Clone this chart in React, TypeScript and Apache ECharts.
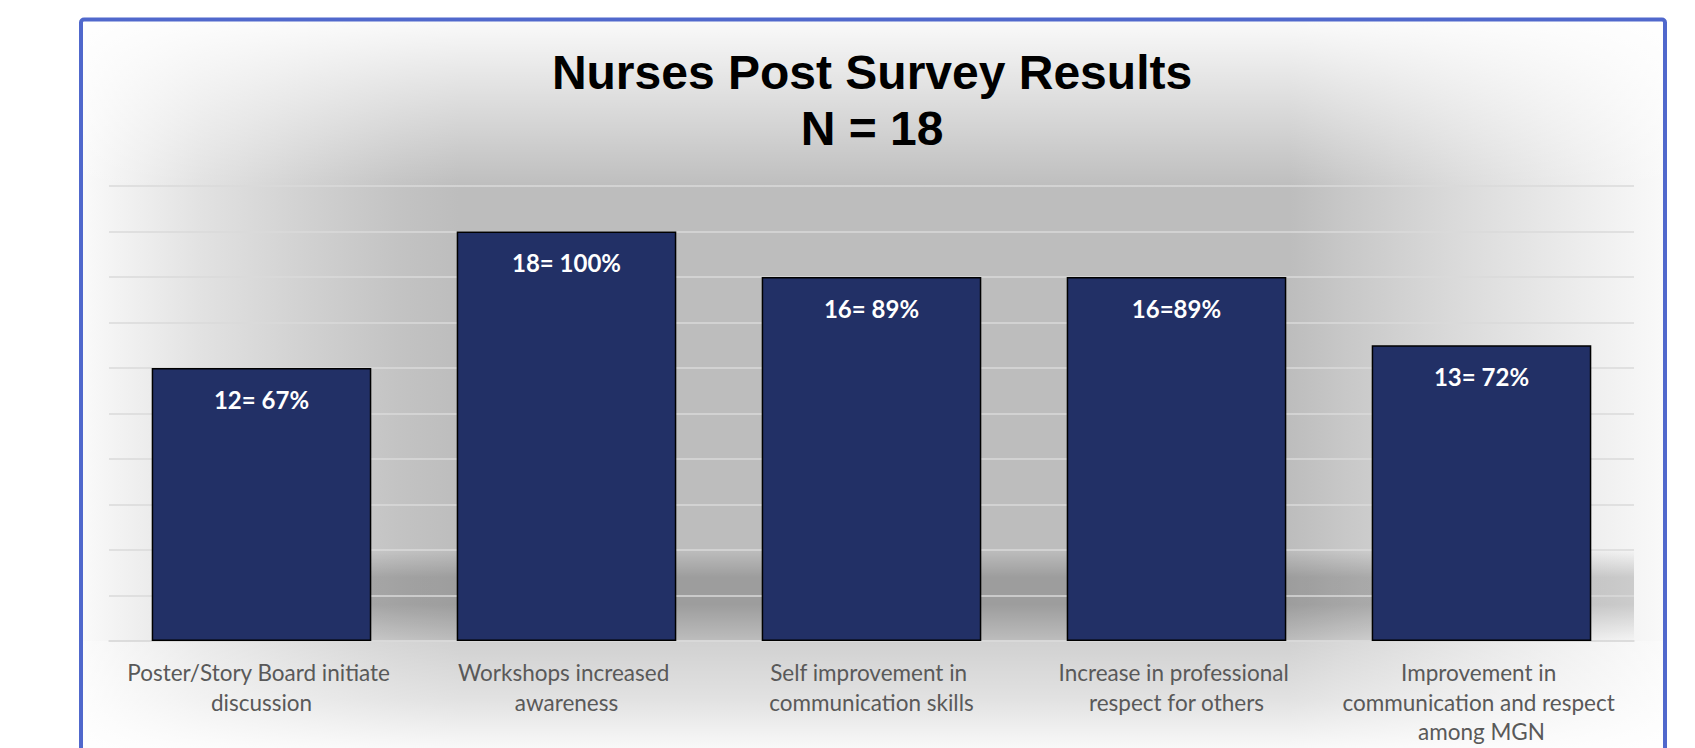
import React, { useEffect, useRef } from "react";
import * as echarts from "echarts";

const titleLines = ["Nurses Post Survey Results", "N = 18"];
const categories = [
  "Poster/Story Board initiate discussion",
  "Workshops increased awareness",
  "Self improvement in communication skills",
  "Increase in professional respect for others",
  "Improvement in communication and respect among MGN",
];
const counts = [12, 18, 16, 16, 13];
const barLabels = ["12= 67%", "18= 100%", "16= 89%", "16=89%", "13= 72%"];

const W = 1695;
const H = 748;

export default function App() {
  const ref = useRef<HTMLDivElement>(null);
  useEffect(() => {
    if (!ref.current) return;
    const chart = echarts.init(ref.current, null, { renderer: "svg" });
    const bx0 = 83, bx1 = 1663, by0 = 21;
    const hGrad = {
      type: "linear", x: 0, y: 0, x2: 1, y2: 0,
      colorStops: [
        { offset: 0, color: "#fafafa" },
        { offset: 0.011, color: "#f6f6f6" },
        { offset: 0.074, color: "#e2e2e2" },
        { offset: 0.137, color: "#d2d2d2" },
        { offset: 0.2, color: "#c3c3c3" },
        { offset: 0.238, color: "#bdbdbd" },
        { offset: 0.764, color: "#bdbdbd" },
        { offset: 0.8, color: "#c8c8c8" },
        { offset: 0.864, color: "#d9d9d9" },
        { offset: 0.928, color: "#e8e8e8" },
        { offset: 1, color: "#f9f9f9" },
      ],
    };
    chart.setOption({
      animation: false,
      backgroundColor: "#ffffff",
      title: {
        text: titleLines.join("\n"),
        left: 872,
        top: 44,
        textAlign: "center",
        padding: 0,
        textStyle: {
          fontFamily: "Liberation Sans, Arial, sans-serif",
          fontWeight: "bold",
          fontSize: 48,
          lineHeight: 56,
          color: "#000000",
        },
      },
      graphic: [
        {
          type: "rect", z: -10, silent: true,
          shape: { x: bx0, y: by0, width: bx1 - bx0, height: H - by0 },
          style: { fill: hGrad },
        },
        {
          type: "rect", z: -9, silent: true,
          shape: { x: bx0, y: by0, width: bx1 - bx0, height: 168 },
          style: {
            fill: {
              type: "linear", x: 0, y: 0, x2: 0, y2: 1,
              colorStops: [
                { offset: 0, color: "rgba(255,255,255,0.92)" },
                { offset: 0.66, color: "rgba(255,255,255,0.32)" },
                { offset: 1, color: "rgba(255,255,255,0)" },
              ],
            },
          },
        },
        {
          type: "rect", z: -9, silent: true,
          shape: { x: 300, y: 550, width: 1334, height: 91 },
          style: {
            fill: {
              type: "linear", x: 0, y: 0, x2: 0, y2: 1,
              colorStops: [
                { offset: 0, color: "rgba(0,0,0,0)" },
                { offset: 0.3, color: "rgba(0,0,0,0.17)" },
                { offset: 0.6, color: "rgba(0,0,0,0.17)" },
                { offset: 1, color: "rgba(0,0,0,0.0)" },
              ],
            },
          },
        },
        {
          type: "rect", z: -8, silent: true,
          shape: { x: bx0, y: 641, width: bx1 - bx0, height: H - 641 },
          style: {
            fill: {
              type: "linear", x: 0, y: 0, x2: 0, y2: 1,
              colorStops: [
                { offset: 0, color: "rgba(255,255,255,0.3)" },
                { offset: 0.55, color: "rgba(255,255,255,0.56)" },
                { offset: 1, color: "rgba(255,255,255,0.9)" },
              ],
            },
          },
        },
        {
          type: "rect", z: 10, silent: true,
          shape: { x: 81, y: 19.5, width: 1584, height: 760, r: 3 },
          style: { fill: "none", stroke: "#5068cc", lineWidth: 4 },
        },
      ],
      grid: { left: 109, right: W - 1634, top: 186, bottom: H - 641, containLabel: false },
      xAxis: {
        type: "category",
        data: categories,
        axisTick: { show: false },
        axisLine: { show: true, lineStyle: { color: "#dadada", width: 1.5 } },
        axisLabel: {
          interval: 0,
          margin: 17,
          width: 290,
          overflow: "break",
          fontFamily: "Lato, sans-serif",
          fontSize: 22.5,
          lineHeight: 29.5,
          color: "#595959",
        },
      },
      yAxis: {
        type: "value",
        min: 0,
        max: 20,
        interval: 2,
        axisLabel: { show: false },
        axisLine: { show: false },
        axisTick: { show: false },
        splitLine: { show: true, lineStyle: { color: "#dadada", width: 1.5 } },
      },
      series: [
        {
          type: "bar",
          data: counts,
          barCategoryGap: "28%",
          itemStyle: { color: "#223066", borderColor: "#000000", borderWidth: 1.5 },
          label: {
            show: true,
            position: "insideTop",
            distance: 19,
            formatter: (p: any) => barLabels[p.dataIndex],
            fontFamily: "Lato, sans-serif",
            fontWeight: "bold",
            fontSize: 24,
            color: "#ffffff",
          },
        },
      ],
    });
    return () => chart.dispose();
  }, []);
  return (
    <div
      ref={ref}
      style={{ position: "fixed", left: 0, top: 0, width: W, height: H }}
    />
  );
}
